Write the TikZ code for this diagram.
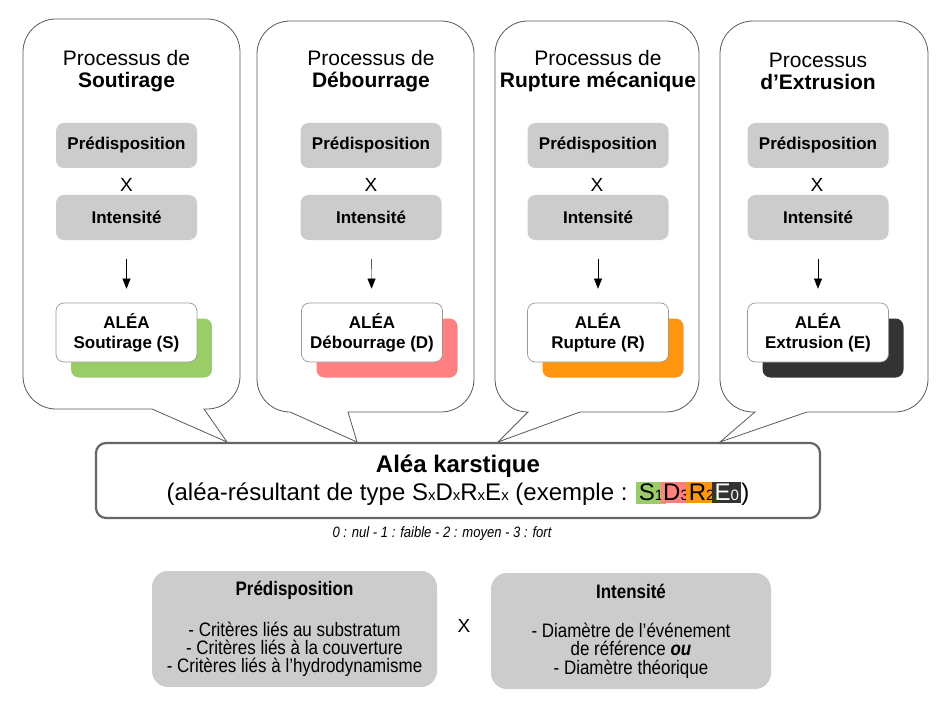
\documentclass[tikz,border=0pt]{standalone}
\usepackage{fontspec}
\setmainfont{Liberation Sans}
\newfontfamily\etroite[FakeStretch=0.87]{Liberation Sans}
\usepackage{xcolor}
\definecolor{vertAlea}{HTML}{9ACD68}
\definecolor{rougeAlea}{HTML}{FF8080}
\definecolor{orangeAlea}{HTML}{FF950E}
\definecolor{noirAlea}{HTML}{333333}
\definecolor{grisBoite}{HTML}{CCCCCC}
\definecolor{grisTrait}{HTML}{666666}
\usepackage{tikz}
\usetikzlibrary{arrows.meta,positioning}
\newcommand{\indice}[1]{{\fontsize{15}{15}\selectfont #1}}

\begin{document}
\begin{tikzpicture}[x=1pt,y=-1pt,>={Triangle[length=10pt,width=8pt]},
  bulle/.style={draw=black!65,line width=0.8pt,fill=white},
  grise/.style={fill=grisBoite,rounded corners=8pt,minimum width=141pt,
    minimum height=45pt,font=\fontsize{17}{20}\selectfont\bfseries},
  alea/.style={draw=black!40,line width=0.7pt,fill=white,rounded corners=8pt,minimum width=141pt,
    minimum height=59pt,align=center,font=\fontsize{17}{20}\selectfont\bfseries},
  ombre/.style={fill=#1,rounded corners=8pt,minimum width=141pt,minimum height=59pt},
  titre/.style={align=center,font=\fontsize{21}{22}\selectfont},
  fois/.style={font=\fontsize{19}{19}\selectfont},
  critere/.style={fill=grisBoite,rounded corners=16pt,minimum height=116pt,
    align=center,font=\etroite\fontsize{19.5}{18}\selectfont}]

\useasboundingbox (0,0) rectangle (951,706);

% Bulles des processus
\draw[bulle] (130,19) [rounded corners=33pt] -- (23,19) -- (23,409) [sharp corners]
  -- (152,409) -- (227,442) -- (204,409) [rounded corners=33pt] -- (240,409) -- (240,19) -- cycle;
\draw[bulle] (365,21) [rounded corners=33pt] -- (257,21) -- (257,412) [sharp corners]
  -- (290,412) -- (357,442) -- (348,412) [rounded corners=33pt] -- (474,412) -- (474,21) -- cycle;
\draw[bulle] (596,21) [rounded corners=33pt] -- (495,21) -- (495,412) [sharp corners]
  -- (528,412) -- (498,442) -- (580,412) [rounded corners=33pt] -- (699,412) -- (699,21) -- cycle;
\draw[bulle] (824,21) [rounded corners=33pt] -- (720,21) -- (720,412) [sharp corners]
  -- (755,412) -- (720,442) -- (807,412) [rounded corners=33pt] -- (928,412) -- (928,21) -- cycle;

% Soutirage
\node[titre] (titreS) at (126.5,71) {Processus de\\\textbf{Soutirage}};
\node[grise] (predS) at (126.5,145.5) {Prédisposition};
\node[fois]  (foisS) at (126.5,185) {X};
\node[grise] (intS)  at (126.5,217.5) {Intensité};
\node[ombre=vertAlea] (ombreS) at (141.5,348) {};
\node[alea]  (aleaS) at (126.5,332.5) {ALÉA\\Soutirage (S)};
\draw[->,shorten <=19pt,shorten >=14pt] (intS) -- (aleaS);

% Débourrage
\node[titre] (titreD) at (371,71) {Processus de\\\textbf{Débourrage}};
\node[grise] (predD) at (371,145.5) {Prédisposition};
\node[fois]  (foisD) at (371,185) {X};
\node[grise] (intD)  at (371,217.5) {Intensité};
\node[ombre=rougeAlea] (ombreD) at (387,348) {};
\node[alea]  (aleaD) at (372,332.5) {ALÉA\\Débourrage (D)};
\draw[->,shorten <=19pt,shorten >=14pt] (intD) -- (aleaD);

% Rupture mécanique
\node[titre] (titreR) at (598,71) {Processus de\\\textbf{Rupture mécanique}};
\node[grise] (predR) at (598,145.5) {Prédisposition};
\node[fois]  (foisR) at (597,185) {X};
\node[grise] (intR)  at (598,217.5) {Intensité};
\node[ombre=orangeAlea] (ombreR) at (613,348) {};
\node[alea]  (aleaR) at (598,332.5) {ALÉA\\Rupture (R)};
\draw[->,shorten <=19pt,shorten >=14pt] (intR) -- (aleaR);

% Extrusion
\node[titre] (titreE) at (818,71) {Processus\\\textbf{d’Extrusion}};
\node[grise] (predE) at (818,145.5) {Prédisposition};
\node[fois]  (foisE) at (817,185) {X};
\node[grise] (intE)  at (818,217.5) {Intensité};
\node[ombre=noirAlea] (ombreE) at (833,348) {};
\node[alea]  (aleaE) at (818,332.5) {ALÉA\\Extrusion (E)};
\draw[->,shorten <=19pt,shorten >=14pt] (intE) -- (aleaE);

% Aléa résultant
\node[draw=grisTrait,line width=2.2pt,fill=white,rounded corners=10pt,
  minimum width=724pt,minimum height=75pt,align=center,
  font=\fontsize{24}{28}\selectfont] (karst) at (458,480.5)
  {{\fontsize{24}{28}\selectfont\bfseries Aléa karstique}\\
   (aléa-résultant de type S\indice{x}D\indice{x}R\indice{x}E\indice{x} (exemple :
   \setlength{\fboxsep}{2.5pt}\colorbox{vertAlea}{S\indice{1}}\kern-5pt\colorbox{rougeAlea}{D\indice{3}}\kern-5pt\colorbox{orangeAlea}{R\indice{2}}\kern-5pt\colorbox{noirAlea}{\color{white}E\indice{0}})};

\node[font=\etroite\itshape\fontsize{15}{15}\selectfont] (echelle) at (442,534)
  {0 : nul - 1 : faible - 2 : moyen - 3 : fort};

% Critères
\node[critere,minimum width=285pt] (predBas) at (294.5,629)
  {\textbf{Prédisposition}\\[22pt]
   - Critères liés au substratum\\
   - Critères liés à la couverture\\
   - Critères liés à l’hydrodynamisme};
\node[fois] (foisBas) at (464,626) {X};
\node[critere,minimum width=280pt] (intBas) at (631,631)
  {\textbf{Intensité}\\[21pt]
   - Diamètre de l’événement\\
   de référence \textbf{\textit{ou}}\\[1pt]
   - Diamètre théorique};

\end{tikzpicture}
\end{document}
